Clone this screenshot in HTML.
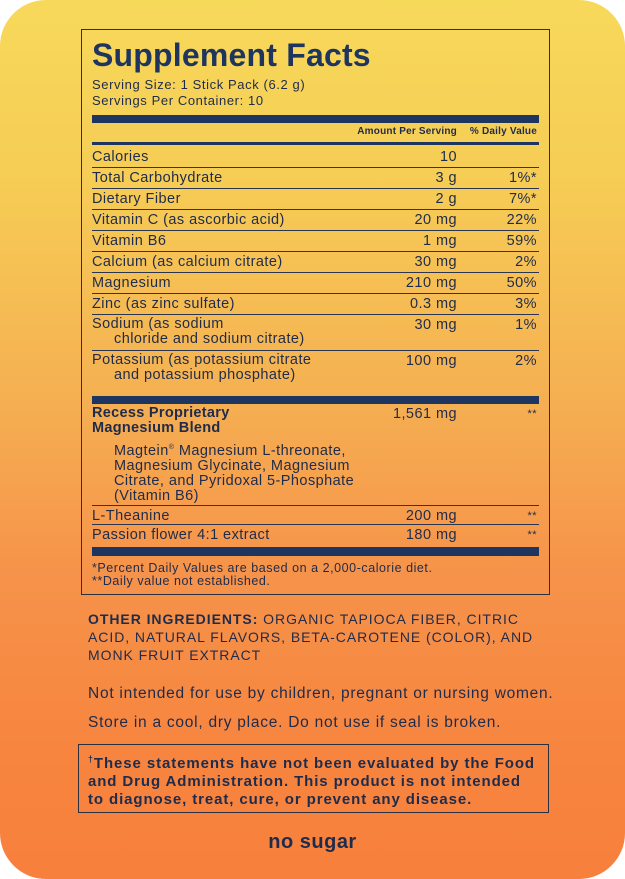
<!DOCTYPE html>
<html><head><meta charset="utf-8"><style>
*{margin:0;padding:0;box-sizing:border-box}
html,body{width:625px;height:879px;background:#fff;overflow:hidden}
#card{position:absolute;left:0;top:0;width:625px;height:879px;border-radius:46px;overflow:hidden;
background:linear-gradient(180deg,#f7d95a 0%,#f6cd55 20%,#f5b052 45%,#f6934a 65%,#f7853f 85%,#f7803c 100%);
font-family:"Liberation Sans",sans-serif;color:#1f2b4a}
.t{position:absolute;white-space:nowrap;font-size:14.5px;line-height:16px;letter-spacing:0.45px}
.r{text-align:right}
.hl{position:absolute;left:92px;width:447px;height:1px;background:#2a3550}
.bar{position:absolute;left:92px;width:447px;background:#1e3560}
#box{position:absolute;left:81px;top:29px;width:469px;height:566px;border:1.5px solid #2a3040}
.ind{padding-left:22px}
.b{font-weight:bold}
</style></head><body><div id="card">
<div id="box"></div>
<div class="t b" style="left:92px;top:38px;font-size:32px;line-height:34px;color:#1e3560;letter-spacing:0.2px">Supplement Facts</div>
<div class="t" style="left:92px;top:77px;font-size:13px;line-height:15px;letter-spacing:0.6px">Serving Size: 1 Stick Pack (6.2 g)</div>
<div class="t" style="left:92px;top:93px;font-size:13px;line-height:15px;letter-spacing:0.6px">Servings Per Container: 10</div>
<div class="bar" style="top:115px;height:8px"></div>
<div class="t b r" style="left:300px;width:157px;top:126px;font-size:10px;line-height:11px;letter-spacing:0.2px">Amount Per Serving</div>
<div class="t b r" style="left:460px;width:77px;top:126px;font-size:10px;line-height:11px;letter-spacing:0.2px">% Daily Value</div>
<div class="bar" style="top:142px;height:3px"></div>

<div class="t" style="left:92px;top:149px">Calories</div><div class="t r" style="left:300px;width:157px;top:149px">10</div>
<div class="hl" style="top:167px"></div>
<div class="t" style="left:92px;top:170px">Total Carbohydrate</div><div class="t r" style="left:300px;width:157px;top:170px">3 g</div><div class="t r" style="left:440px;width:97px;top:170px">1%*</div>
<div class="hl" style="top:188px"></div>
<div class="t" style="left:92px;top:191px">Dietary Fiber</div><div class="t r" style="left:300px;width:157px;top:191px">2 g</div><div class="t r" style="left:440px;width:97px;top:191px">7%*</div>
<div class="hl" style="top:209px"></div>
<div class="t" style="left:92px;top:212px">Vitamin C (as ascorbic acid)</div><div class="t r" style="left:300px;width:157px;top:212px">20 mg</div><div class="t r" style="left:440px;width:97px;top:212px">22%</div>
<div class="hl" style="top:230px"></div>
<div class="t" style="left:92px;top:233px">Vitamin B6</div><div class="t r" style="left:300px;width:157px;top:233px">1 mg</div><div class="t r" style="left:440px;width:97px;top:233px">59%</div>
<div class="hl" style="top:251px"></div>
<div class="t" style="left:92px;top:254px">Calcium (as calcium citrate)</div><div class="t r" style="left:300px;width:157px;top:254px">30 mg</div><div class="t r" style="left:440px;width:97px;top:254px">2%</div>
<div class="hl" style="top:272px"></div>
<div class="t" style="left:92px;top:275px">Magnesium</div><div class="t r" style="left:300px;width:157px;top:275px">210 mg</div><div class="t r" style="left:440px;width:97px;top:275px">50%</div>
<div class="hl" style="top:293px"></div>
<div class="t" style="left:92px;top:296px">Zinc (as zinc sulfate)</div><div class="t r" style="left:300px;width:157px;top:296px">0.3 mg</div><div class="t r" style="left:440px;width:97px;top:296px">3%</div>
<div class="hl" style="top:314px"></div>
<div class="t" style="left:92px;top:317px;line-height:15px">Sodium (as sodium<br><span class="ind">chloride and sodium citrate)</span></div><div class="t r" style="left:300px;width:157px;top:317px">30 mg</div><div class="t r" style="left:440px;width:97px;top:317px">1%</div>
<div class="hl" style="top:350px"></div>
<div class="t" style="left:92px;top:353px;line-height:15px">Potassium (as potassium citrate<br><span class="ind">and potassium phosphate)</span></div><div class="t r" style="left:300px;width:157px;top:353px">100 mg</div><div class="t r" style="left:440px;width:97px;top:353px">2%</div>
<div class="bar" style="top:396px;height:8px"></div>

<div class="t b" style="left:92px;top:406px;line-height:15px;letter-spacing:0.3px">Recess Proprietary<br>Magnesium Blend</div>
<div class="t r" style="left:300px;width:157px;top:406px">1,561 mg</div><div class="t r" style="left:440px;width:97px;top:406px;font-size:11px">**</div>
<div class="t" style="left:114px;top:440px;line-height:15px">Magtein<sup style="font-size:7px">®</sup> Magnesium L-threonate,<br>Magnesium Glycinate, Magnesium<br>Citrate, and Pyridoxal 5-Phosphate<br>(Vitamin B6)</div>
<div class="hl" style="top:505px"></div>
<div class="t" style="left:92px;top:508px">L-Theanine</div><div class="t r" style="left:300px;width:157px;top:508px">200 mg</div><div class="t r" style="left:440px;width:97px;top:508px;font-size:11px">**</div>
<div class="hl" style="top:524px"></div>
<div class="t" style="left:92px;top:527px">Passion flower 4:1 extract</div><div class="t r" style="left:300px;width:157px;top:527px">180 mg</div><div class="t r" style="left:440px;width:97px;top:527px;font-size:11px">**</div>
<div class="bar" style="top:547px;height:9px"></div>
<div class="t" style="left:92px;top:562px;font-size:12.5px;line-height:13px;letter-spacing:0.55px">*Percent Daily Values are based on a 2,000-calorie diet.<br>**Daily value not established.</div>

<div class="t" style="left:88px;top:610px;font-size:14px;line-height:18px;font-weight:bold;letter-spacing:0.95px">OTHER INGREDIENTS: <span style="font-weight:normal">ORGANIC TAPIOCA FIBER, CITRIC</span><br><span style="font-weight:normal">ACID, NATURAL FLAVORS, BETA-CAROTENE (COLOR), AND</span><br><span style="font-weight:normal">MONK FRUIT EXTRACT</span></div>
<div class="t" style="left:88px;top:685px;font-size:15.5px;line-height:18px;letter-spacing:0.75px">Not intended for use by children, pregnant or nursing women.</div>
<div class="t" style="left:88px;top:714px;font-size:15.5px;line-height:18px;letter-spacing:0.75px">Store in a cool, dry place. Do not use if seal is broken.</div>
<div style="position:absolute;left:78px;top:744px;width:471px;height:69px;border:1.5px solid #2a3040"></div>
<div class="t b" style="left:88px;top:750px;font-size:15px;line-height:18px;letter-spacing:0.9px"><sup style="font-size:9px">†</sup>These statements have not been evaluated by the Food<br>and Drug Administration. This product is not intended<br>to diagnose, treat, cure, or prevent any disease.</div>
<div class="t b" style="left:0;width:625px;text-align:center;top:830px;font-size:20px;line-height:24px;letter-spacing:0.5px">no sugar</div>
</div></body></html>
